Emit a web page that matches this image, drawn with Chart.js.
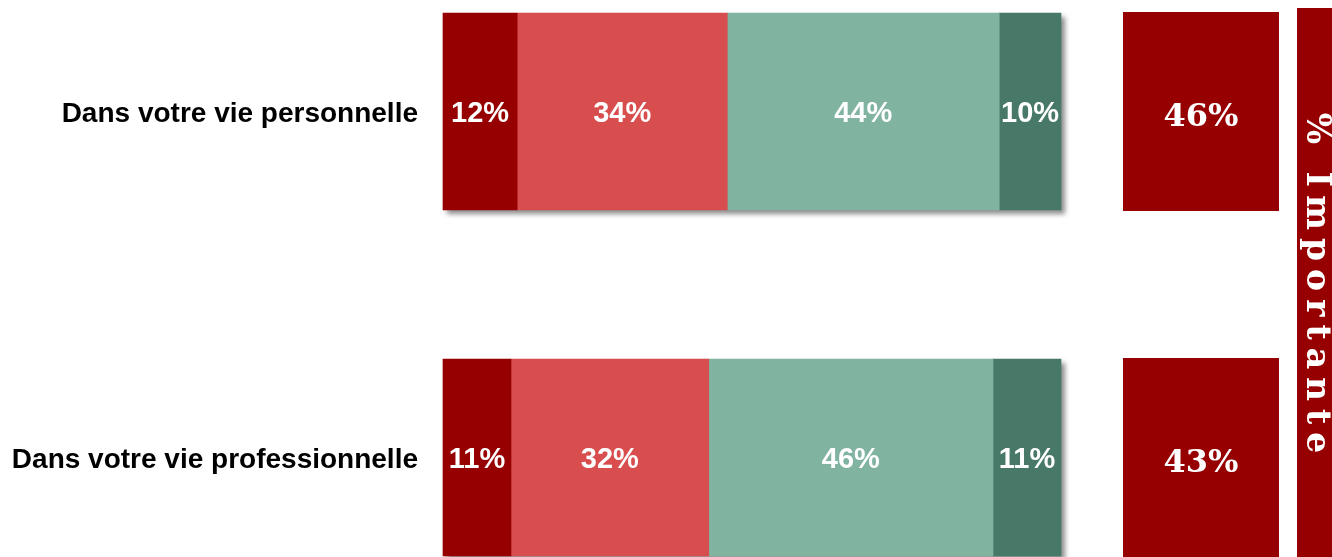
<!DOCTYPE html>
<html lang="fr">
<head>
<meta charset="utf-8">
<title>Importance</title>
<script src="https://cdn.jsdelivr.net/npm/chart.js@4.4.1/dist/chart.umd.min.js"></script>
<style>
  html, body { margin: 0; padding: 0; background: #fff; }
  #wrap { position: relative; width: 1332px; height: 557px; }
</style>
</head>
<body>
<div id="wrap"><canvas id="importanceChart"></canvas></div>
<script>
// ========================================
// DATA
// ========================================
const categories = ["Dans votre vie personnelle", "Dans votre vie professionnelle"];
const seriesNames = ["Très importante", "Plutôt importante", "Plutôt pas importante", "Pas du tout importante"];
const tresImportante = [12, 11];
const plutotImportante = [34, 32];
const plutotPasImportante = [44, 46];
const pasDuToutImportante = [10, 11];
const totalImportante = [46, 43];
const totalTitle = "% Importante";

const SERIES_COLORS = ["#960000", "#D84E4F", "#81B3A1", "#487868"];
const DARK_RED = "#960000";

// Utility: draw a soft drop shadow under each full stacked bar
const barShadow = {
  id: "barShadow",
  beforeDatasetsDraw(chart) {
    const { ctx, scales: { x } } = chart;
    const meta = chart.getDatasetMeta(0);
    ctx.save();
    ctx.shadowColor = "rgba(0,0,0,0.45)";
    ctx.shadowBlur = 5;
    ctx.shadowOffsetX = 4;
    ctx.shadowOffsetY = 4;
    ctx.fillStyle = "#ffffff";
    meta.data.forEach(bar => {
      const x0 = x.getPixelForValue(0);
      const x1 = x.getPixelForValue(100);
      ctx.fillRect(x0, bar.y - bar.height / 2, x1 - x0, bar.height);
    });
    ctx.restore();
  }
};

// Utility: white percentage labels centered in each segment
const segmentLabels = {
  id: "segmentLabels",
  afterDatasetsDraw(chart) {
    const { ctx } = chart;
    ctx.save();
    ctx.fillStyle = "#ffffff";
    ctx.font = "bold 29px 'Liberation Sans', Arial, sans-serif";
    ctx.textAlign = "center";
    ctx.textBaseline = "middle";
    chart.data.datasets.forEach((ds, di) => {
      chart.getDatasetMeta(di).data.forEach((bar, i) => {
        ctx.fillText(ds.data[i] + "%", (bar.x + bar.base) / 2, bar.y + 2);
      });
    });
    ctx.restore();
  }
};

// Utility: "% Importante" boxes and vertical title band
const totalBoxes = {
  id: "totalBoxes",
  afterDraw(chart) {
    const { ctx, chartArea, scales: { y } } = chart;
    const boxLeft = chartArea.right + 62;
    const boxWidth = 156;
    const boxHeight = 199;
    ctx.save();
    totalImportante.forEach((v, i) => {
      const cy = y.getPixelForValue(i);
      ctx.fillStyle = DARK_RED;
      ctx.fillRect(boxLeft, cy - boxHeight / 2, boxWidth, boxHeight);
      ctx.fillStyle = "#ffffff";
      ctx.font = "bold 32px 'DejaVu Serif', Georgia, serif";
      ctx.textAlign = "center";
      ctx.textBaseline = "middle";
      ctx.fillText(v + "%", boxLeft + boxWidth / 2, cy + 6);
    });

    // vertical band
    const bandLeft = boxLeft + boxWidth + 18;
    ctx.fillStyle = DARK_RED;
    ctx.fillRect(bandLeft, 8, chart.width - bandLeft + 10, chart.height);
    ctx.translate(bandLeft + 10, 283);
    ctx.rotate(Math.PI / 2);
    ctx.fillStyle = "#ffffff";
    ctx.font = "bold 33px 'DejaVu Serif', Georgia, serif";
    ctx.letterSpacing = "8px";
    ctx.textAlign = "center";
    ctx.textBaseline = "alphabetic";
    ctx.fillText(totalTitle, 4, 0);
    ctx.restore();
  }
};

// ======================================================
// Stacked horizontal bar chart
// ======================================================
const seriesValues = [tresImportante, plutotImportante, plutotPasImportante, pasDuToutImportante];

new Chart(document.getElementById("importanceChart").getContext("2d"), {
  type: "bar",
  data: {
    labels: categories,
    datasets: seriesValues.map((values, i) => ({
      label: seriesNames[i],
      data: values,
      backgroundColor: SERIES_COLORS[i],
      borderWidth: 0,
      barThickness: 197,
      clip: false
    }))
  },
  options: {
    indexAxis: "y",
    animation: false,
    responsive: true,
    maintainAspectRatio: false,
    layout: { padding: { top: 111.5, bottom: 99.5, left: 0, right: 271 } },
    plugins: {
      legend: { display: false },
      tooltip: { enabled: false }
    },
    scales: {
      x: {
        stacked: true,
        min: 0,
        max: 100,
        display: false
      },
      y: {
        stacked: true,
        offset: false,
        grid: { display: false, drawTicks: false },
        border: { display: false },
        afterFit: scale => { scale.width = 443; },
        ticks: {
          padding: 25,
          labelOffset: 3,
          color: "#000000",
          font: { family: "'Liberation Sans', Arial, sans-serif", size: 28, weight: "bold" }
        }
      }
    }
  },
  plugins: [barShadow, segmentLabels, totalBoxes]
});
</script>
</body>
</html>
